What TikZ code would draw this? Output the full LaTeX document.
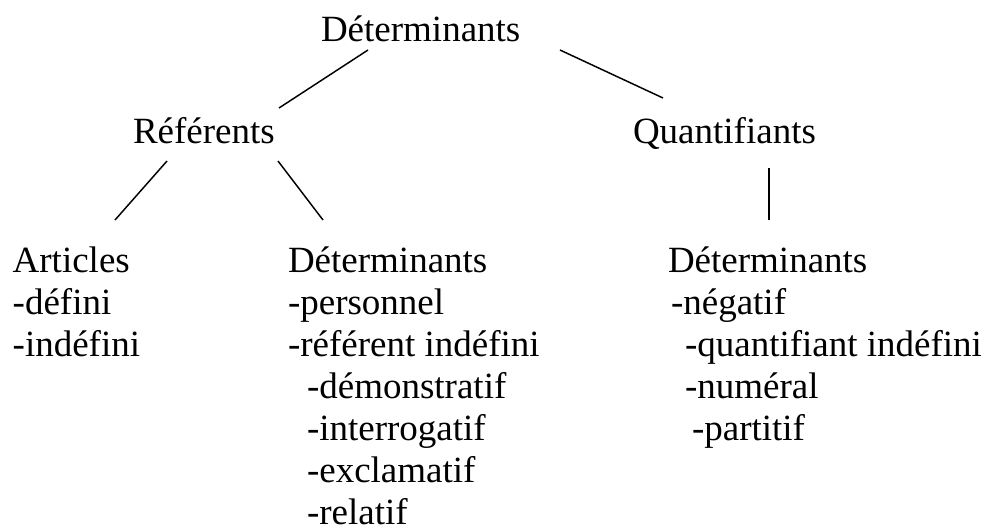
\documentclass[tikz,border=0pt]{standalone}
\usepackage{fontspec}
\setmainfont{Liberation Serif}
\begin{document}
\begin{tikzpicture}[x=0.75pt,y=-0.75pt,
  lbl/.style={anchor=base west,inner sep=0pt,outer sep=0pt,font=\fontsize{27.75}{32}\selectfont},
  branch/.style={line width=1.1pt,line cap=butt}]
\useasboundingbox (0,0) rectangle (986,532);

% root
\node[lbl] (root) at (321,41.7) {Déterminants};

% second level
\node[lbl] (ref) at (133,143) {Référents};
\node[lbl] (quant) at (633,143) {Quantifiants};

% articles column
\node[lbl] (art)  at (12.7,272.5) {Articles};
\node[lbl] (art1) at (12.7,314.5) {-défini};
\node[lbl] (art2) at (12.7,356.5) {-indéfini};

% referential determiners column
\node[lbl] (dr)  at (288,272.5) {Déterminants};
\node[lbl] (dr1) at (288,314.5) {-personnel};
\node[lbl] (dr2) at (288,356.5) {-référent indéfini};
\node[lbl] (dr3) at (307,398.5) {-démonstratif};
\node[lbl] (dr4) at (307,440.5) {-interrogatif};
\node[lbl] (dr5) at (307,482.5) {-exclamatif};
\node[lbl] (dr6) at (307,524.5) {-relatif};

% quantifying determiners column
\node[lbl] (dq)  at (668,272.5) {Déterminants};
\node[lbl] (dq1) at (671,314.5) {-négatif};
\node[lbl] (dq2) at (685,356.5) {-quantifiant indéfini};
\node[lbl] (dq3) at (685,398.5) {-numéral};
\node[lbl] (dq4) at (692,440.5) {-partitif};

% branch end points
\coordinate (rootL) at (368,50);
\coordinate (rootR) at (560,50);
\coordinate (refT)  at (279,108);
\coordinate (quantT) at (663,98);
\coordinate (refL)  at (167,161);
\coordinate (refR)  at (278,161);
\coordinate (artT)  at (115,220);
\coordinate (drT)   at (323,220);
\coordinate (quantB) at (769,168);
\coordinate (dqT)   at (769,220);

\draw[branch] (rootL) -- (refT);
\draw[branch] (rootR) -- (quantT);
\draw[branch] (refL) -- (artT);
\draw[branch] (refR) -- (drT);
\draw[branch] (quantB) -- (dqT);
\end{tikzpicture}
\end{document}
